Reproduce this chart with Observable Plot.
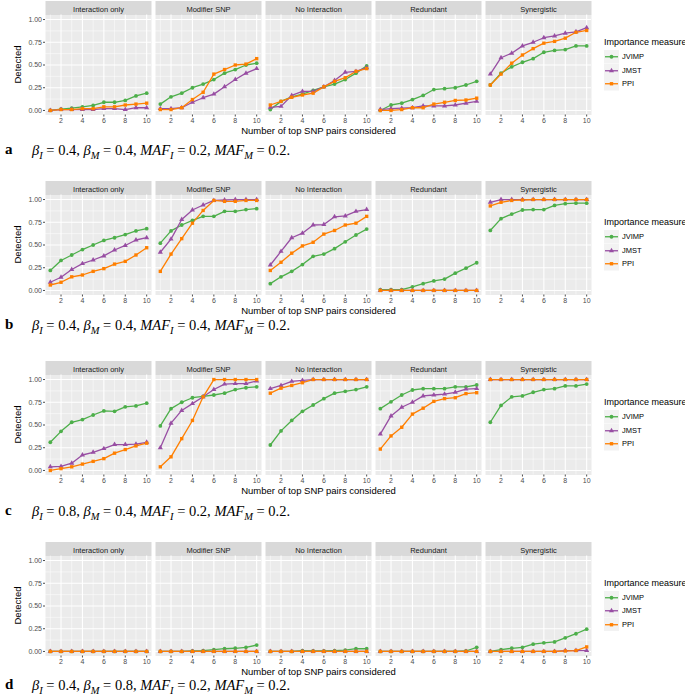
<!DOCTYPE html>
<html><head><meta charset="utf-8">
<script src="https://cdn.jsdelivr.net/npm/d3@7"></script>
<script src="https://cdn.jsdelivr.net/npm/@observablehq/plot@0.6"></script>
<style>
body{margin:0;background:#fff;width:685px;height:699px;overflow:hidden;font-family:"Liberation Sans",Arial,sans-serif;position:relative;}
.block{position:absolute;left:0;width:685px;}
.block svg{position:absolute;left:0;top:0;}
.legend{position:absolute;left:604px;top:36px;color:#000;}
.legend .title{font-size:9px;line-height:13px;margin-bottom:1px;white-space:nowrap;}
.legend .item{display:flex;align-items:center;height:13.5px;font-size:7.5px;}
.legend .item svg{position:static;margin-right:3px;}
.caption{position:absolute;left:0;width:685px;font-family:"Liberation Serif","DejaVu Serif",serif;}
.caption b{position:absolute;left:5px;top:-1px;font-size:15px;}
.caption span{position:absolute;left:32px;font-size:14.5px;white-space:nowrap;}
.caption sub{font-size:0.72em;}
</style></head><body>
<script>
const steps = [1,2,3,4,5,6,7,8,9,10];
const scenarios = ["Interaction only","Modifier SNP","No Interaction","Redundant","Synergistic"];
const measures = ["JVIMP","JMST","PPI"];
const colors = ["#4daf4a","#984ea3","#ff7f00"];
const symbols = ["circle","triangle","square"];
const xTicks = [2,4,6,8,10];
const xMinor = [1,3,5,7,9];
const yTicks = [0,0.25,0.5,0.75,1];
const yMinor = [0.125,0.375,0.625,0.875];

const panelLetters = ["a","b","c","d"];
const betaI = [0.4,0.4,0.8,0.4];
const betaM = [0.4,0.4,0.4,0.8];
const mafI = [0.2,0.4,0.2,0.2];
const mafM = [0.2,0.2,0.2,0.2];

// values: one inner array per scenario (order of `scenarios`), 10 steps each
const aJVIMP = [
 [0.00,0.015,0.025,0.04,0.055,0.09,0.09,0.11,0.16,0.19],
 [0.07,0.15,0.19,0.25,0.29,0.34,0.41,0.45,0.50,0.52],
 [0.01,0.10,0.15,0.18,0.22,0.26,0.29,0.34,0.41,0.49],
 [0.00,0.06,0.08,0.12,0.165,0.23,0.24,0.25,0.28,0.32],
 [0.28,0.41,0.48,0.53,0.57,0.64,0.66,0.67,0.71,0.71]];
const aJMST = [
 [0.00,0.01,0.01,0.01,0.01,0.02,0.02,0.01,0.03,0.03],
 [0.02,0.02,0.03,0.09,0.14,0.18,0.26,0.34,0.41,0.46],
 [0.035,0.045,0.165,0.21,0.21,0.26,0.33,0.42,0.43,0.47],
 [0.01,0.02,0.025,0.03,0.05,0.05,0.05,0.06,0.08,0.10],
 [0.40,0.58,0.63,0.71,0.75,0.80,0.82,0.85,0.865,0.91]];
const aPPI = [
 [0.00,0.01,0.01,0.02,0.02,0.04,0.04,0.06,0.07,0.08],
 [0.01,0.01,0.03,0.12,0.20,0.40,0.45,0.50,0.51,0.57],
 [0.06,0.10,0.145,0.17,0.19,0.26,0.32,0.36,0.43,0.46],
 [0.00,0.00,0.01,0.03,0.03,0.07,0.09,0.11,0.115,0.135],
 [0.28,0.40,0.52,0.61,0.68,0.74,0.76,0.795,0.86,0.88]];

const bJVIMP = [
 [0.22,0.33,0.39,0.45,0.50,0.55,0.58,0.615,0.655,0.68],
 [0.52,0.655,0.72,0.77,0.815,0.815,0.87,0.87,0.89,0.90],
 [0.075,0.15,0.21,0.285,0.375,0.40,0.46,0.535,0.61,0.675],
 [0.01,0.01,0.01,0.04,0.075,0.105,0.125,0.19,0.245,0.305],
 [0.66,0.79,0.84,0.885,0.89,0.89,0.935,0.955,0.96,0.96]];
const bJMST = [
 [0.09,0.145,0.23,0.295,0.335,0.38,0.445,0.495,0.555,0.58],
 [0.42,0.565,0.78,0.885,0.94,0.99,0.995,1.0,1.0,1.0],
 [0.28,0.43,0.58,0.63,0.72,0.725,0.81,0.82,0.87,0.89],
 [0,0,0,0,0,0,0,0,0,0],
 [0.97,1.0,1.0,1.0,1.0,1.0,1.0,1.0,1.0,1.0]];
const bPPI = [
 [0.06,0.09,0.15,0.17,0.21,0.24,0.29,0.32,0.39,0.47],
 [0.21,0.40,0.57,0.74,0.88,0.99,0.98,0.98,0.99,0.99],
 [0.22,0.31,0.41,0.49,0.53,0.62,0.66,0.72,0.74,0.815],
 [0,0,0,0,0,0,0,0,0,0],
 [0.93,0.97,0.99,0.995,1.0,1.0,1.0,1.0,1.0,1.0]];

const cJVIMP = [
 [0.31,0.43,0.53,0.56,0.61,0.655,0.65,0.70,0.71,0.74],
 [0.49,0.68,0.75,0.80,0.815,0.83,0.85,0.89,0.91,0.92],
 [0.28,0.435,0.55,0.65,0.72,0.79,0.85,0.87,0.89,0.92],
 [0.68,0.755,0.83,0.885,0.90,0.90,0.90,0.92,0.92,0.94],
 [0.53,0.715,0.81,0.82,0.86,0.89,0.90,0.93,0.93,0.95]];
const cJMST = [
 [0.04,0.045,0.08,0.17,0.20,0.24,0.285,0.285,0.29,0.31],
 [0.25,0.52,0.66,0.735,0.81,0.89,0.95,0.955,0.955,0.985],
 [0.90,0.935,0.98,0.99,1,1,1,1,1,1],
 [0.40,0.60,0.695,0.75,0.82,0.83,0.84,0.86,0.895,0.90],
 [1,1,1,1,1,1,1,1,1,1]];
const cPPI = [
 [0.0,0.02,0.04,0.07,0.10,0.13,0.19,0.23,0.27,0.30],
 [0.04,0.15,0.35,0.55,0.81,1,1,1,1,1],
 [0.85,0.905,0.935,0.965,1,1,1,1,1,1],
 [0.235,0.38,0.475,0.62,0.685,0.76,0.79,0.80,0.845,0.855],
 [1,1,1,1,1,1,1,1,1,1]];

const dJVIMP = [
 [0,0,0,0,0,0,0,0,0,0],
 [0,0,0,0.005,0.01,0.02,0.03,0.035,0.045,0.07],
 [0,0,0,0.01,0.005,0.005,0.01,0.015,0.03,0.03],
 [0,0,0,0,0,0,0,0,0.005,0.045],
 [0,0.02,0.035,0.045,0.08,0.095,0.105,0.15,0.195,0.245]];
const dJMST = [
 [0,0,0,0,0,0,0,0,0,0],
 [0,0,0,0,0,0,0,0,0,0],
 [0,0,0,0,0,0,0,0,0,0],
 [0,0,0,0,0,0,0,0,0,0],
 [0,0,0,0,0,0,0,0.01,0.01,0.01]];
const dPPI = [
 [0,0,0,0,0,0,0,0,0,0],
 [0,0,0,0,0,0,0,0,0,0],
 [0,0,0,0,0,0,0,0,0,0],
 [0,0,0,0,0,0,0,0,0,0],
 [0,0,0,0,0,0,0,0.005,0.01,0.05]];

const blockSeries = [
  [aJVIMP, aJMST, aPPI],
  [bJVIMP, bJMST, bPPI],
  [cJVIMP, cJMST, cPPI],
  [dJVIMP, dJMST, dPPI]
];

// layout (not data)
const blockTops = [0, 180, 360, 540.5];
const captionTops = [142, 137, 143, 136];
const W = 600, H = 140, MT = 14.5, MB = 25.5, ML = 43, MR = 6;
const panelH = H - MT - MB;
const font = "Liberation Sans, Arial, sans-serif";

blockSeries.forEach((series, bi) => {
  const rows = [];
  measures.forEach((m, mi) => {
    scenarios.forEach((s, si) => {
      steps.forEach((st, k) => rows.push({scenario: s, measure: m, step: st, value: series[mi][si][k]}));
    });
  });

  const plot = Plot.plot({
    width: W, height: H, marginTop: MT, marginBottom: MB, marginLeft: ML, marginRight: MR,
    style: {fontFamily: font, background: "transparent", overflow: "visible"},
    fx: {domain: scenarios, paddingInner: 0.036, paddingOuter: 0, label: null, axis: null},
    x: {domain: [0.55, 10.45], axis: null},
    y: {domain: [-0.05, 1.05], axis: null},
    color: {domain: measures, range: colors},
    symbol: {domain: measures, range: symbols},
    marks: [
      Plot.frame({fill: "#ebebeb"}),
      Plot.frame({fill: "#d9d9d9", insetTop: -14, insetBottom: panelH}),
      Plot.gridX(xMinor, {stroke: "#fff", strokeOpacity: 1, strokeWidth: 0.5}),
      Plot.gridY(yMinor, {stroke: "#fff", strokeOpacity: 1, strokeWidth: 0.5}),
      Plot.gridX(xTicks, {stroke: "#fff", strokeOpacity: 1, strokeWidth: 1.1}),
      Plot.gridY(yTicks, {stroke: "#fff", strokeOpacity: 1, strokeWidth: 1.1}),
      Plot.axisFx({anchor: "top", tickSize: 0, tickPadding: 3.5, fontSize: 7.5, label: null, color: "#1a1a1a"}),
      Plot.axisX(xTicks, {tickSize: 2, tickPadding: 1.5, fontSize: 7, color: "#4d4d4d", label: null}),
      Plot.axisY(yTicks, {tickSize: 2, tickPadding: 1.5, fontSize: 7, tickFormat: ".2f", color: "#4d4d4d", label: null}),
      Plot.line(rows, {fx: "scenario", x: "step", y: "value", z: "measure", stroke: "measure", strokeWidth: 1.3}),
      Plot.dot(rows, {fx: "scenario", x: "step", y: "value", symbol: "measure", fill: "measure", stroke: "none", r: 1.9})
    ]
  });

  const svg = d3.select(plot);
  svg.append("text")
    .attr("x", (ML + W - MR) / 2).attr("y", H - 9).attr("dy", "0.35em")
    .attr("text-anchor", "middle").attr("font-size", 9.5).attr("fill", "#000")
    .attr("font-family", font)
    .text("Number of top SNP pairs considered");
  svg.append("text")
    .attr("transform", `translate(18,${MT + panelH / 2}) rotate(-90)`)
    .attr("dy", "0.35em")
    .attr("text-anchor", "middle").attr("font-size", 9.5).attr("fill", "#000")
    .attr("font-family", font)
    .text("Detected");

  const block = document.createElement("div");
  block.className = "block";
  block.style.top = blockTops[bi] + "px";
  block.style.height = "180px";
  block.appendChild(plot);

  // legend
  const legend = document.createElement("div");
  legend.className = "legend";
  let html = `<div class="title">Importance measure</div>`;
  measures.forEach((m, mi) => {
    const sym = d3.symbol(d3[{circle: "symbolCircle", triangle: "symbolTriangle", square: "symbolSquare"}[symbols[mi]]], Math.PI * 1.9 * 1.9)();
    html += `<div class="item"><svg width="15" height="13.5"><rect width="15" height="13.5" fill="#f2f2f2"/>` +
      `<line x1="1" x2="14" y1="6.75" y2="6.75" stroke="${colors[mi]}" stroke-width="1.3"/>` +
      `<path d="${sym}" transform="translate(7.5,6.75)" fill="${colors[mi]}"/></svg>${m}</div>`;
  });
  legend.innerHTML = html;
  block.appendChild(legend);

  // caption
  const cap = document.createElement("div");
  cap.className = "caption";
  cap.style.top = captionTops[bi] + "px";
  cap.innerHTML = `<b>${panelLetters[bi]}</b><span><i>β</i><sub><i>I</i></sub> = ${betaI[bi]}, <i>β</i><sub><i>M</i></sub> = ${betaM[bi]}, <i>MAF</i><sub><i>I</i></sub> = ${mafI[bi]}, <i>MAF</i><sub><i>M</i></sub> = ${mafM[bi]}.</span>`;
  block.appendChild(cap);

  document.body.appendChild(block);
});
</script>
</body></html>
